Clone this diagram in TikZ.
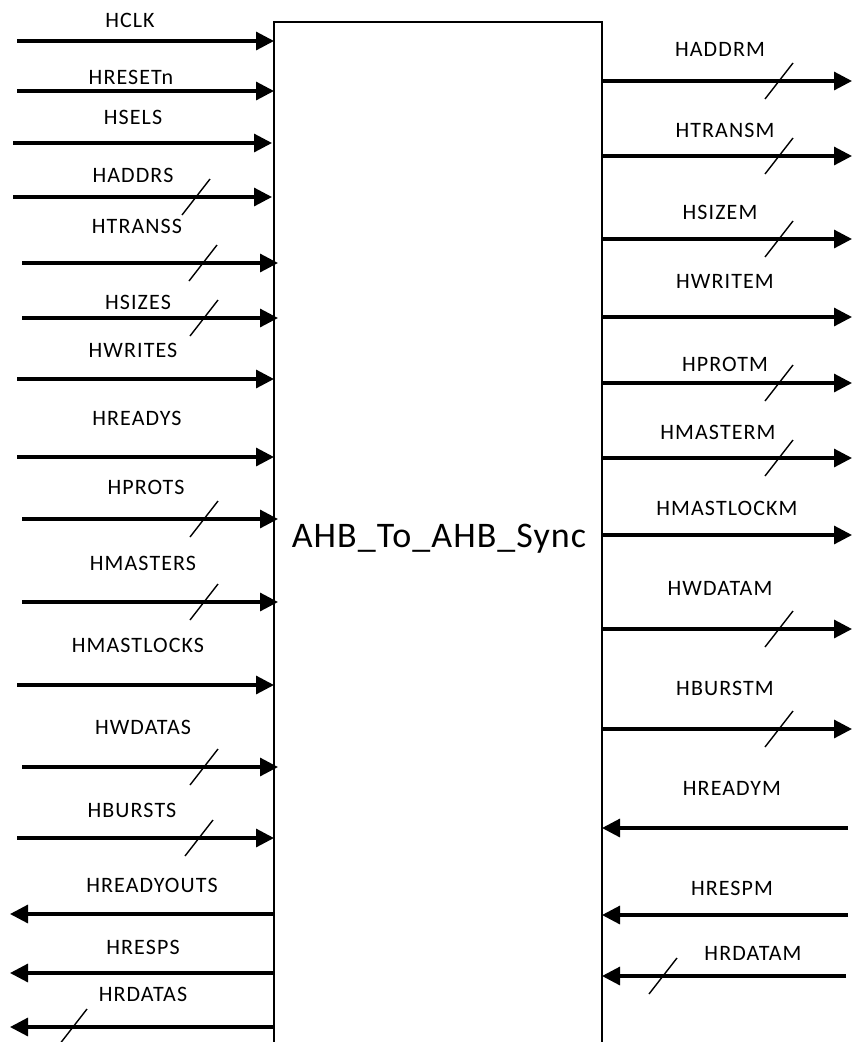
\documentclass[tikz,border=0pt]{standalone}
\usepackage{fontspec}
\setmainfont{Carlito}
\newfontfamily\sigfont[LetterSpace=5]{Carlito}
\newfontfamily\blockfont[LetterSpace=3]{Carlito}
\usetikzlibrary{arrows.meta,calc}

\begin{document}
\begin{tikzpicture}[x=1pt,y=-1pt,
  sig/.style={line width=3.2pt,-{Triangle[length=18pt,width=18pt]}},
  lbl/.style={font=\sigfont\fontsize{22}{25}\selectfont,inner sep=0pt},
  bus/.style={line width=1.4pt}]
  \useasboundingbox (0,0) rectangle (852,1042);
  % block outline, open at the bottom
  \draw[line width=1.4pt] (274,1042) -- (274,22) -- (602,22) -- (602,1042);
  \node[font=\blockfont\fontsize{36}{40}\selectfont,inner sep=0pt,anchor=base] (core) at (439,547) {AHB\_To\_AHB\_Sync};
  % slave side inputs
  \foreach \sig/\ys/\xs/\xe/\lx/\ly/\bus in {
    HCLK/41/17/274/130/20/0,
    HRESETn/91/17/274/131/77/0,
    HSELS/143/13/272/133/117/0,
    HADDRS/197/13/272/133/175/196,
    HTRANSS/263/22/278/137/226/203,
    HSIZES/318/22/278/138/302/204,
    HWRITES/379/17/274/133/350/0,
    HREADYS/457/17/274/137/418/0,
    HPROTS/519/22/278/146/487/204,
    HMASTERS/602/22/278/143/563/204,
    HMASTLOCKS/685/17/274/138/645/0,
    HWDATAS/767/22/278/143/727/204,
    HBURSTS/838/17/274/132/810/199}
  {
    \coordinate (\sig-src) at (\xs,\ys);
    \coordinate (\sig-dst) at (\xe,\ys);
    \draw[sig] (\sig-src) -- (\sig-dst);
    \node[lbl] (\sig-lbl) at (\lx,\ly) {\sig};
    \ifnum\bus>0 \draw[bus] ($(\bus,\ys)+(-14,18)$) -- ++(28,-36); \fi
  }
  % slave side outputs
  \foreach \sig/\ys/\lx/\ly/\bus in {
    HREADYOUTS/914/152/885/0,
    HRESPS/973/143/947/0,
    HRDATAS/1027/143/994/73}
  {
    \coordinate (\sig-src) at (274,\ys);
    \coordinate (\sig-dst) at (10,\ys);
    \draw[sig] (\sig-src) -- (\sig-dst);
    \node[lbl] (\sig-lbl) at (\lx,\ly) {\sig};
    \ifnum\bus>0 \draw[bus] ($(\bus,\ys)+(-14,18)$) -- ++(28,-36); \fi
  }
  % master side outputs
  \foreach \sig/\ys/\lx/\ly/\bus in {
    HADDRM/81/720/49/779,
    HTRANSM/156/725/130/779,
    HSIZEM/239/720/212/779,
    HWRITEM/317/725/281/0,
    HPROTM/383/725/364/779,
    HMASTERM/458/718/432/779,
    HMASTLOCKM/535/727/508/0,
    HWDATAM/629/720/588/779,
    HBURSTM/729/725/688/779}
  {
    \coordinate (\sig-src) at (602,\ys);
    \coordinate (\sig-dst) at (852,\ys);
    \draw[sig] (\sig-src) -- (\sig-dst);
    \node[lbl] (\sig-lbl) at (\lx,\ly) {\sig};
    \ifnum\bus>0 \draw[bus] ($(\bus,\ys)+(-14,18)$) -- ++(28,-36); \fi
  }
  % master side inputs
  \foreach \sig/\ys/\xs/\lx/\ly/\bus in {
    HREADYM/828/848/732/788/0,
    HRESPM/915/848/732/888/0,
    HRDATAM/976/846/753/953/663}
  {
    \coordinate (\sig-src) at (\xs,\ys);
    \coordinate (\sig-dst) at (602,\ys);
    \draw[sig] (\sig-src) -- (\sig-dst);
    \node[lbl] (\sig-lbl) at (\lx,\ly) {\sig};
    \ifnum\bus>0 \draw[bus] ($(\bus,\ys)+(-14,18)$) -- ++(28,-36); \fi
  }
\end{tikzpicture}
\end{document}
